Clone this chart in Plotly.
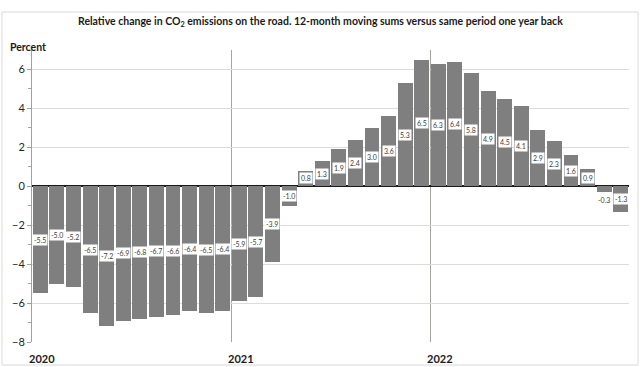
import plotly.graph_objects as go

years = ["2020", "2021", "2022"]
values = [-5.5, -5.0, -5.2, -6.5, -7.2, -6.9, -6.8, -6.7, -6.6, -6.4, -6.5, -6.4,
          -5.9, -5.7, -3.9, -1.0, 0.8, 1.3, 1.9, 2.4, 3.0, 3.6, 5.3, 6.5,
          6.3, 6.4, 5.8, 4.9, 4.5, 4.1, 2.9, 2.3, 1.6, 0.9, -0.3, -1.3]
labels = [f"{v:.1f}" for v in values]

x = [i + 0.5 for i in range(len(values))]
year_start = [12 * k for k in range(len(years))]

W, H = 641, 367
L, R, T, B = 32, 12, 50, 25
FONT = "Lato"

fig = go.Figure()
fig.add_trace(go.Bar(x=x, y=values, width=0.9, marker=dict(color="#7f7f7f", line=dict(width=0)),
                     hoverinfo="skip"))

# data labels centered in bars with white boxes
for xi, v, t in zip(x, values, labels):
    if abs(v) < 0.5:
        fig.add_annotation(x=xi, y=v, text=t, showarrow=False, yanchor="top", yshift=-2,
                           font=dict(size=7, color="#404040", family=FONT), bgcolor="white", borderpad=1)
    else:
        fig.add_annotation(x=xi, y=v / 2, text=t, showarrow=False,
                           font=dict(size=7, color="#404040", family=FONT), bgcolor="white", borderpad=1)

# year labels
for xs, yl in zip(year_start, years):
    fig.add_annotation(x=xs, y=0, yref="paper", text=f"<b>{yl}</b>", showarrow=False,
                       xanchor="left", yanchor="top", yshift=-8, xshift=-5,
                       font=dict(size=11, color="#1a1a1a", family=FONT))

pw = W - L - R
ph = H - T - B
def px(xp):
    return (xp - L) / pw
def py(yp):
    return (H - B - yp) / ph

# outer border
fig.add_shape(type="rect", xref="paper", yref="paper", x0=px(2), x1=px(638), y0=py(365), y1=py(12),
              line=dict(color="#d9d9d9", width=1), layer="below")

fig.add_annotation(xref="paper", yref="paper", x=px(320), y=py(22), text="<b>Relative change in CO<sub>2</sub> emissions on the road. 12-month moving sums versus same period one year back</b>",
                   showarrow=False, xanchor="center", yanchor="middle",
                   font=dict(size=10.5, color="#1a1a1a", family=FONT))
fig.add_annotation(xref="paper", yref="paper", x=px(8), y=py(47), text="<b>Percent</b>",
                   showarrow=False, xanchor="left", yanchor="middle",
                   font=dict(size=10.5, color="#1a1a1a", family=FONT))

fig.update_layout(
    width=W, height=H,
    margin=dict(l=L, r=R, t=T, b=B),
    paper_bgcolor="white", plot_bgcolor="white",
    showlegend=False, bargap=0,
)
fig.update_xaxes(range=[0, 36], tickvals=[0, 12, 24, 36], showticklabels=False,
                 showgrid=True, gridcolor="#a6a6a0", gridwidth=1, zeroline=False, ticks="")
fig.update_yaxes(range=[-8, 7], tickvals=[-8, -6, -4, -2, 0, 2, 4, 6],
                 showgrid=True, gridcolor="#dcdcdc", gridwidth=1,
                 zeroline=True, zerolinecolor="#1a1a1a", zerolinewidth=1.5,
                 showline=True, linecolor="#a0a0a0", linewidth=1,
                 ticks="outside", ticklen=4, tickcolor="#a0a0a0",
                 minor=dict(dtick=1, ticks="outside", ticklen=3, tickcolor="#a0a0a0", showgrid=False),
                 tickfont=dict(size=11, color="#262626", family=FONT))

fig.write_html("out.html")
